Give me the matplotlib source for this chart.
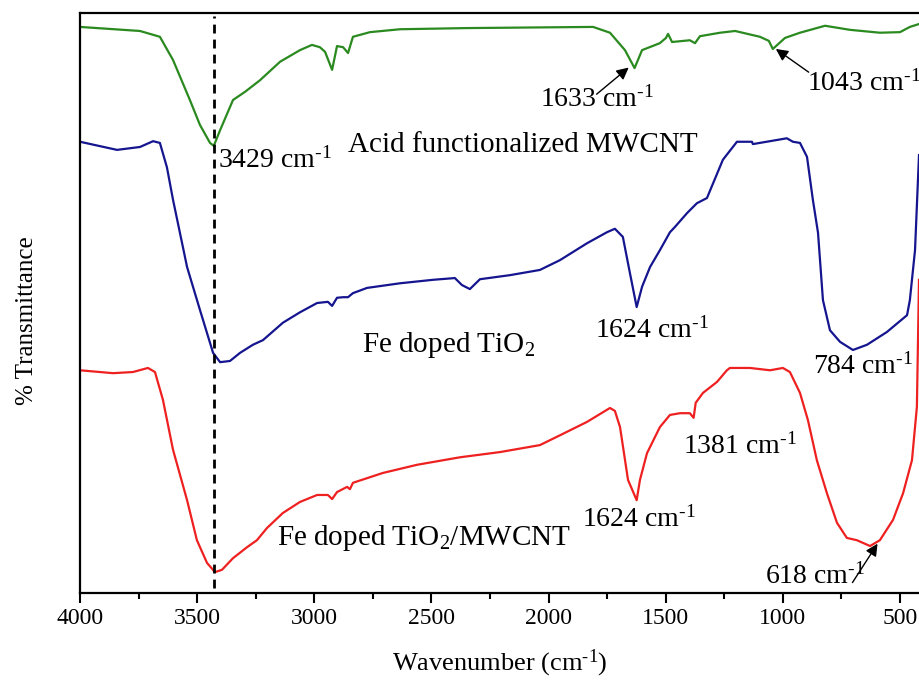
import matplotlib
matplotlib.use("Agg")
import matplotlib.pyplot as plt

plt.rcParams['font.family'] = ['Liberation Serif', 'DejaVu Serif']
plt.rcParams['mathtext.fontset'] = 'custom'
plt.rcParams['mathtext.rm'] = 'Liberation Serif'
plt.rcParams['mathtext.it'] = 'Liberation Serif:italic'

# Acid functionalized MWCNT (green)
wn_cnt = [4000, 3744, 3659, 3603, 3531, 3488, 3445, 3429, 3402, 3347, 3296, 3232,
          3146, 3061, 3010, 2976, 2954, 2924, 2903, 2877, 2856, 2835, 2762, 2634,
          2348, 1810, 1738, 1674, 1633, 1601, 1525, 1499, 1490, 1473, 1397, 1375,
          1354, 1268, 1204, 1098, 1060, 1043, 991, 927, 820, 714, 586, 500, 458, 419]
tr_cnt = [97.6, 96.9, 95.9, 91.9, 85.0, 80.7, 77.6, 77.1, 79.8, 85.0, 86.4, 88.4,
          91.6, 93.6, 94.5, 94.1, 93.3, 90.2, 94.3, 94.1, 93.1, 95.9, 96.7, 97.2,
          97.4, 97.6, 96.6, 93.6, 90.5, 93.6, 94.8, 95.7, 96.4, 95.0, 95.3, 94.8,
          96.0, 96.6, 96.9, 95.9, 95.2, 93.8, 95.7, 96.6, 97.8, 97.1, 96.6, 96.7, 97.6, 98.1]

# Fe doped TiO2 (blue)
wn_tio2 = [4000, 3842, 3744, 3688, 3659, 3629, 3603, 3543, 3488, 3432, 3402, 3360,
           3317, 3262, 3219, 3134, 3061, 2988, 2942, 2924, 2903, 2877, 2856, 2835,
           2775, 2634, 2493, 2400, 2370, 2336, 2293, 2165, 2037, 1951, 1836, 1751,
           1717, 1683, 1653, 1624, 1601, 1567, 1525, 1482, 1461, 1409, 1367, 1324,
           1256, 1196, 1132, 1128, 1055, 983, 957, 927, 897, 872, 850, 829, 799,
           756, 701, 641, 556, 470, 458, 436, 419]
tr_tio2 = [77.8, 76.4, 76.9, 77.9, 77.6, 73.4, 67.8, 56.2, 48.8, 41.4, 39.8, 40.0,
           41.4, 42.8, 43.6, 46.6, 48.4, 50.0, 50.2, 49.5, 50.9, 51.0, 51.0, 51.7,
           52.6, 53.4, 54.0, 54.3, 53.1, 52.4, 54.1, 54.8, 55.7, 57.4, 60.3, 62.2,
           62.8, 61.4, 55.2, 49.3, 52.8, 56.2, 59.1, 62.2, 63.1, 65.5, 67.2, 68.1,
           74.7, 77.8, 77.8, 77.4, 77.9, 78.4, 77.8, 77.6, 75.2, 67.8, 62.1, 50.5, 45.3,
           43.3, 41.9, 42.8, 45.0, 47.9, 50.5, 59.1, 75.5]

# Fe doped TiO2/MWCNT (red)
wn_comp = [4000, 3859, 3774, 3710, 3680, 3646, 3603, 3543, 3501, 3458, 3424, 3394,
           3347, 3287, 3245, 3202, 3134, 3061, 2988, 2942, 2924, 2903, 2860, 2848,
           2835, 2707, 2562, 2378, 2207, 2037, 1951, 1836, 1738, 1717, 1695, 1661,
           1624, 1610, 1580, 1525, 1482, 1439, 1397, 1381, 1372, 1341, 1281, 1239,
           1226, 1140, 1055, 1000, 970, 927, 893, 855, 812, 769, 727, 684, 628, 586,
           530, 487, 449, 428, 419]
tr_comp = [38.4, 37.9, 38.1, 38.8, 38.1, 33.3, 24.7, 16.0, 9.1, 5.2, 3.6, 4.0,
           6.0, 7.9, 9.1, 11.2, 13.8, 15.7, 16.9, 16.9, 16.2, 17.4, 18.3, 17.9,
           19.0, 20.7, 22.1, 23.4, 24.3, 25.5, 27.2, 29.5, 31.9, 31.4, 28.6, 19.5,
           16.0, 19.5, 24.1, 28.6, 30.7, 31.0, 31.0, 30.2, 32.8, 34.5, 36.4, 38.4,
           38.8, 38.8, 38.4, 38.8, 38.1, 34.5, 29.8, 22.9, 17.2, 12.1, 9.5, 9.1, 8.1, 9.1,
           12.6, 17.2, 22.9, 32.1, 54.0]

xticks = [4000, 3500, 3000, 2500, 2000, 1500, 1000, 500]

fig = plt.figure(figsize=(9.19, 6.8), dpi=100)
ax = fig.add_axes([80 / 919, 87 / 680, 839 / 919, 580 / 680])

ax.plot(wn_cnt, tr_cnt, color='#2a8a1f', lw=1.6)
ax.plot(wn_tio2, tr_tio2, color='#15158f', lw=1.6)
ax.plot(wn_comp, tr_comp, color='#ee2020', lw=1.6)

# O-H band marker
ax.plot([3429, 3429], [0.8, 99.5], color='k', lw=2, dashes=(3.2, 2.2))

ax.set_xlim(4000, 419)
ax.set_ylim(0, 100)
ax.set_xticks(xticks)
ax.set_xticks([3750, 3250, 2750, 2250, 1750, 1250, 750], minor=True)
ax.set_yticks([])
ax.tick_params(axis='x', which='major', direction='out', length=7, width=1.5,
               labelsize=17, pad=4)
ax.tick_params(axis='x', which='minor', direction='out', length=4, width=1.5)
for s in ['left', 'top', 'bottom']:
    ax.spines[s].set_linewidth(1.6)
ax.spines['right'].set_visible(False)

sup = r'$^{\text{-1}}$'
ax.set_xlabel('Wavenumber (cm' + sup + ')', fontsize=19)
ax.xaxis.set_label_coords(0.5, -0.095)
ax.set_ylabel('% Transmittance', fontsize=18)
ax.yaxis.set_label_coords(-0.05, 0.47)

fs = 20
ax.text(2856, 76.0, 'Acid functionalized MWCNT', fontsize=21, ha='left', va='baseline')
ax.text(3411, 73.4, '3429 cm' + sup, fontsize=fs, ha='left', va='baseline')
ax.text(2796, 41.6, r'Fe doped TiO$_{\mathrm{2}}$', fontsize=21, ha='left', va='baseline')
ax.text(1802, 44.0, '1624 cm' + sup, fontsize=fs, ha='left', va='baseline')
ax.text(872, 37.9, '784 cm' + sup, fontsize=fs, ha='left', va='baseline')
ax.text(1426, 24.0, '1381 cm' + sup, fontsize=fs, ha='left', va='baseline')
ax.text(1857, 11.4, '1624 cm' + sup, fontsize=fs, ha='left', va='baseline')
ax.text(3159, 8.3, r'Fe doped TiO$_{\mathrm{2}}$/MWCNT', fontsize=21, ha='left', va='baseline')
ax.text(2037, 83.8, '1633 cm' + sup, fontsize=fs, ha='left', va='baseline')
ax.text(897, 86.7, '1043 cm' + sup, fontsize=fs, ha='left', va='baseline')
ax.text(1077, 1.55, '618 cm' + sup, fontsize=fs, ha='left', va='baseline')

arrow = dict(arrowstyle='-|>', color='k', lw=1.0, mutation_scale=18,
             shrinkA=0, shrinkB=0)
ax.annotate('', xy=(1658, 90.6), xytext=(1795, 86.0), arrowprops=arrow)
ax.annotate('', xy=(1030, 93.8), xytext=(890, 89.8), arrowprops=arrow)
ax.annotate('', xy=(596, 8.5), xytext=(703, 1.8), arrowprops=arrow)

fig.savefig('out.png', dpi=100)
